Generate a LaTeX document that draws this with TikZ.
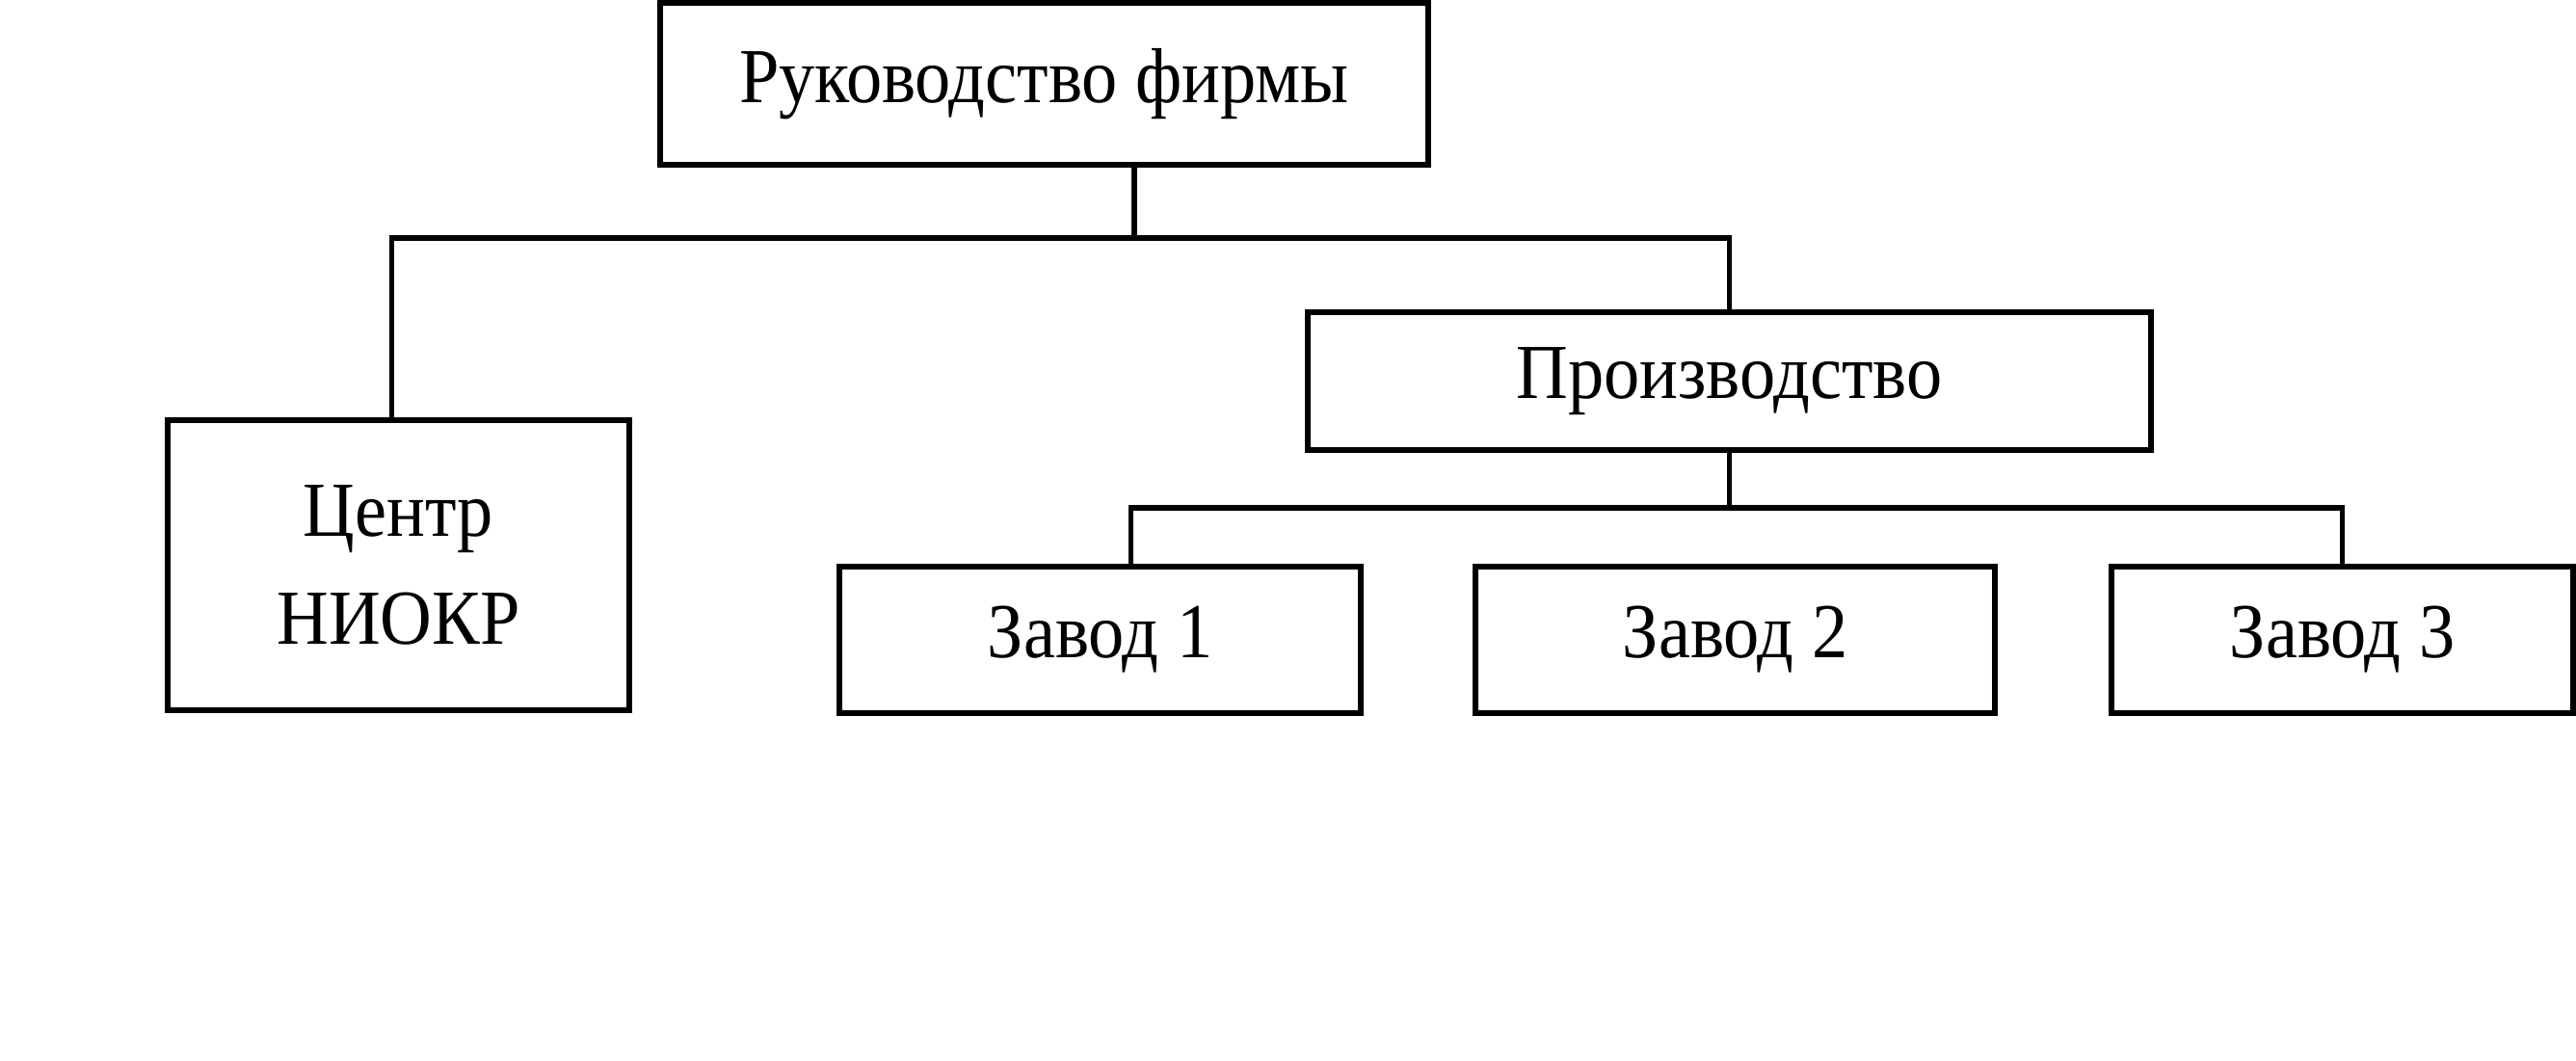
\documentclass[tikz,border=0pt]{standalone}
\usepackage{fontspec}
\setmainfont[FakeStretch=0.92]{Liberation Serif}
\usetikzlibrary{positioning}

\begin{document}
\begin{tikzpicture}

\tikzset{box/.style = {shape=rectangle,draw,line width=1.8pt,inner sep=0pt,align=center,font=\fontsize{23}{32}\selectfont}}
\tikzset{edge/.style = {line width=1.6pt}}
\useasboundingbox (0,0) rectangle (26.73,11.01);
%boxes
\node[box, minimum width=7.97cm, minimum height=1.68cm] (top) at (10.835,10.14) {Руководство фирмы};
\node[box, minimum width=4.79cm, minimum height=3.01cm] (niokr) at (4.135,5.145) {Центр\\НИОКР};
\node[box, minimum width=8.75cm, minimum height=1.43cm] (prod) at (17.945,7.055) {Производство};
\node[box, minimum width=5.41cm, minimum height=1.52cm] (z1) at (11.415,4.37) {Завод 1};
\node[box, minimum width=5.39cm, minimum height=1.52cm] (z2) at (18.005,4.37) {Завод 2};
\node[box, minimum width=4.79cm, minimum height=1.52cm] (z3) at (24.305,4.37) {Завод 3};
\coordinate (bus1) at (11.77,8.54);
\coordinate (bus2) at (17.945,5.74);
%lines
\draw[edge] (top.south -| bus1) -- (bus1);
\draw[edge] ([xshift=-0.7mm]niokr.north) -- ([xshift=-0.7mm]niokr.north |- bus1) -- (prod.north |- bus1) -- (prod.north);
\draw[edge] (prod.south) -- (bus2);
\draw[edge] ([xshift=3.2mm]z1.north) -- ([xshift=3.2mm]z1.north |- bus2) -- (z3.north |- bus2) -- (z3.north);

\end{tikzpicture}
\end{document}
